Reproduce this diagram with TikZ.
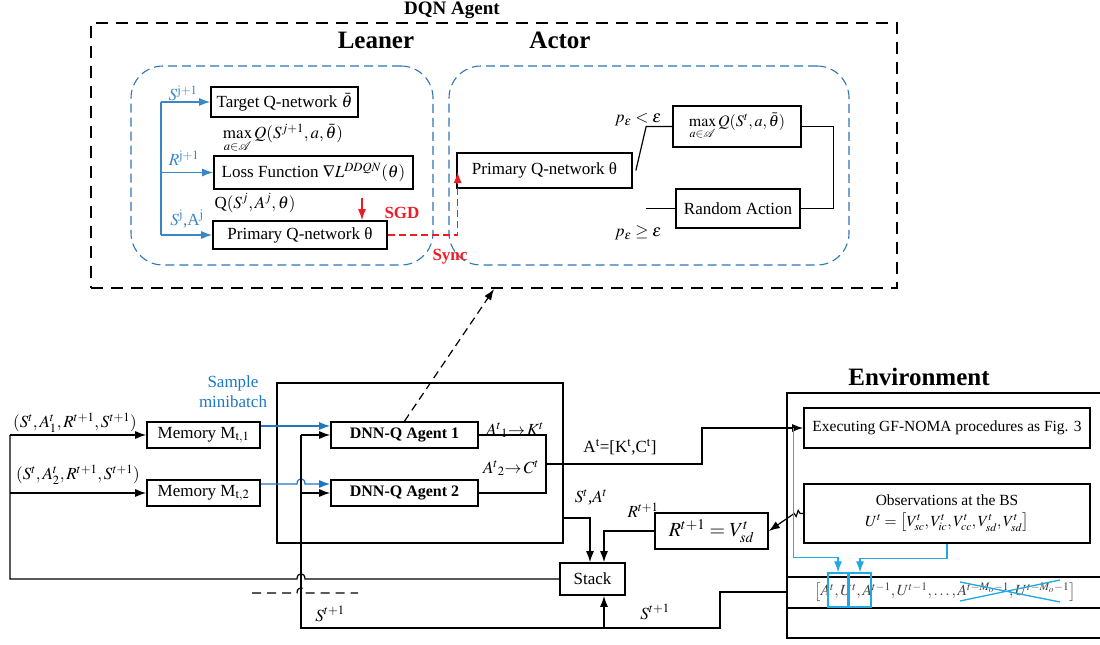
\documentclass[tikz,border=0pt]{standalone}
\usepackage{mathptmx}
\usepackage{fontspec}
\setmainfont{Liberation Serif}
\usetikzlibrary{arrows.meta,calc}
\definecolor{Frame}{HTML}{2E75B6}
\definecolor{Feed}{HTML}{3A87C8}
\definecolor{Batch}{HTML}{1F77C4}
\definecolor{Hist}{HTML}{21A9E1}
\definecolor{Sync}{HTML}{EE1C25}
\newcommand{\fsz}[1]{\fontsize{#1}{#1}\selectfont}

\begin{document}
\begin{tikzpicture}[x=1pt,y=-1pt,>={Latex[length=11pt,width=8pt]},
  box/.style={draw,line width=1.7pt,inner sep=0pt,font=\fsz{17}},
  lane/.style={draw=Frame,dash pattern=on 9pt off 5pt,line width=1.1pt,rounded corners=32pt,inner sep=0pt},
  wire/.style={line width=1.2pt},
  lbl/.style={inner sep=0pt,font=\fsz{17}}]
\useasboundingbox (0,0) rectangle (1100,645);
% DQN agent
\node[font=\fsz{19}\bfseries,anchor=base] (dqnlbl) at (452,14) {DQN Agent};
\node[draw,line width=2.2pt,dash pattern=on 12pt off 8pt,minimum width=806pt,minimum height=265pt,inner sep=0pt] (dqn) at (494,155.5) {};
\node[lane,minimum width=302pt,minimum height=199pt] (leaner) at (282,165.5) {};
\node[lane,minimum width=400pt,minimum height=199pt] (actor) at (649,165.5) {};
\node[font=\fsz{25}\bfseries] (leanerlbl) at (376,40) {Leaner};
\node[font=\fsz{25}\bfseries] (actorlbl) at (560,40) {Actor};
% leaner
\node[box,minimum width=147pt,minimum height=30pt] (tgt) at (284.5,102) {Target Q-network $\bar{\theta}$};
\node[box,minimum width=199pt,minimum height=33pt] (loss) at (313.5,172.5) {Loss Function $\nabla L^{DDQN}(\theta)$};
\node[box,minimum width=174pt,minimum height=28pt] (lprim) at (300,235) {Primary Q-network θ};
\node[lbl,text=Feed] (sj1) at (183,93) {$S^{\mathrm{j+1}}$};
\node[lbl,text=Feed] (rj1) at (184,158) {$R^{\mathrm{j+1}}$};
\node[lbl,text=Feed] (sjaj) at (187,219) {$S^{\mathrm{j}}$,A$^{\mathrm{j}}$};
\node[lbl] (maxtgt) at (283,138) {$\max\limits_{a\in\mathcal{A}} Q(S^{j+1},a,\bar{\theta})$};
\node[lbl] (qprim) at (255,203) {Q$(S^{j},A^{j},\theta)$};
\node[lbl,font=\fsz{17}\bfseries,text=Sync] (sgd) at (402,213) {SGD};
\node[lbl,font=\fsz{17}\bfseries,text=Sync] (sync) at (450,257) {Sync};
\coordinate (bus) at (161,160);
\draw[wire,Feed,->] (bus |- tgt.west) -- (tgt.west);
\draw[wire,Feed,->] (bus |- loss.west) -- (loss.west);
\draw[wire,Feed,->] (bus |- lprim.west) -- (lprim.west);
\draw[wire,Feed] (bus |- tgt.west) -- (bus |- lprim.west);
\draw[wire,Sync,->] ([xshift=48.5pt,yshift=-8pt]loss.south) -- ([xshift=62pt]lprim.north);
% actor
\node[box,minimum width=175pt,minimum height=35pt] (aprim) at (544.5,170.5) {Primary Q-network θ};
\node[box,font=\fsz{16},minimum width=128pt,minimum height=41pt] (amax) at (737,126.5) {$\max\limits_{a\in\mathcal{A}} Q(S^{t},a,\bar{\theta})$};
\node[box,minimum width=124pt,minimum height=39pt] (rand) at (738,208.5) {Random Action};
\node[lbl] (plt) at (638,120) {$p_{\varepsilon}<\varepsilon$};
\node[lbl] (pge) at (638,233) {$p_{\varepsilon}\geq\varepsilon$};
\draw[wire] ([xshift=3pt]aprim.east) -- ([xshift=-26pt]amax.west) -- (amax.west);
\draw[wire] ([xshift=-29pt]rand.west) -- (rand.west);
\draw[wire] (amax.east) -| ([xshift=33pt]rand.east) -- (rand.east);
\draw[wire,Sync,dash pattern=on 7pt off 4pt,->] (lprim.east) -| ([xshift=1.5pt,yshift=-1.5pt]aprim.west);
% agents
\node[lbl,text=Batch,align=center,font=\fontsize{17}{20}\selectfont] (batch) at (233,392) {Sample\\minibatch};
\node[box,minimum width=113pt,minimum height=26pt] (mem1) at (203.5,435) {Memory M$_{\mathrm{t,1}}$};
\node[box,minimum width=113pt,minimum height=26pt] (mem2) at (203.5,493) {Memory M$_{\mathrm{t,2}}$};
\node[lbl] (tup1) at (75,423) {$(S^{t},A^{t}_{1},R^{t+1},S^{t+1})$};
\node[lbl] (tup2) at (78,475) {$(S^{t},A^{t}_{2},R^{t+1},S^{t+1})$};
\node[draw,line width=1.7pt,minimum width=286pt,minimum height=160pt] (agents) at (420,463) {};
\node[box,font=\fsz{16}\bfseries,minimum width=147pt,minimum height=26pt] (ag1) at (404.5,435) {DNN-Q Agent 1};
\node[box,font=\fsz{16}\bfseries,minimum width=147pt,minimum height=26pt] (ag2) at (404.5,493) {DNN-Q Agent 2};
\node[lbl] (k1) at (515,430) {$A^{t}{}_{\mathrm{1}}{\rightarrow}\,K^{t}$};
\node[lbl] (c2) at (511,468) {$A^{t}{}_{\mathrm{2}}{\rightarrow}\,C^{t}$};
\node[lbl] (act) at (620,447) {A$^{\mathrm{t}}$=[K$^{\mathrm{t}}$,C$^{\mathrm{t}}$]};
\node[lbl] (sa) at (591,497) {$S^{t}$,$A^{t}$};
\node[box,minimum width=65pt,minimum height=32pt] (stack) at (592.5,579) {Stack};
\node[box,font=\fsz{20},minimum width=113pt,minimum height=36pt] (rbox) at (711.5,531) {$R^{t+1}=V^{t}_{sd}$};
\node[lbl] (rlbl) at (643,510) {$R^{t+1}$};
\node[lbl] (s1a) at (655,612) {$S^{t+1}$};
\node[lbl] (s1b) at (330,614) {$S^{t+1}$};
% environment
\node[font=\fsz{25}\bfseries] (envlbl) at (919,377) {Environment};
\draw[line width=1.7pt] (1102,393) -- (787,393) -- (787,638) -- (1102,638);
\draw[line width=1.7pt] (787,577) -- (1102,577) (787,608) -- (1102,608);
\node[box,font=\fsz{15.5},minimum width=286pt,minimum height=40pt] (exec) at (947,428) {Executing GF-NOMA procedures as Fig. 3};
\node[box,font=\fsz{15.5},align=center,minimum width=286pt,minimum height=59pt] (obs) at (947,513.5) {Observations at the BS\\[5pt] $U^{t}=\left[V^{t}_{sc},V^{t}_{ic},V^{t}_{cc},V^{t}_{sd},V^{t}_{sd}\right]$};
\node[lbl,font=\fsz{15.5},text=black!75] (hist) at (945,592) {$\left[A^{t},U^{t},A^{t-1},U^{t-1},\ldots,A^{t-M_o-1},U^{t-M_o-1}\right]$};
\node[draw=Hist,line width=1.3pt,minimum width=20pt,minimum height=34pt,inner sep=0pt] (h1) at (838,590) {};
\node[draw=Hist,line width=1.3pt,minimum width=22pt,minimum height=34pt,inner sep=0pt] (h2) at (860,590) {};
\draw[Hist,line width=1.3pt] (960,582) -- (1060,602) (960,601) -- (1060,580);
% connectors
\coordinate (inl) at (10,435);
\coordinate (fb) at (301,628);
\coordinate (fbr) at (720,628);
\coordinate (histw) at (787,592);
\coordinate (jx) at (546,464);
\coordinate (jbend) at (702,464);
\coordinate (tap) at ([xshift=-10pt]exec.west);
\coordinate (sain) at ([xshift=-2.5pt]stack.north);
\coordinate (rin) at ([xshift=11.5pt]stack.north);
\coordinate (sfb) at ([xshift=11.5pt]stack.south);
\draw[wire,->] (inl) -- (mem1.west);
\draw[wire,->] (inl |- mem2.west) -- (mem2.west);
\draw[wire] (inl) -- (inl |- stack.west) -- ($(fb |- stack.west)+(-4pt,0pt)$) .. controls +(0pt,7pt) and +(0pt,7pt) .. ($(fb |- stack.west)+(4pt,0pt)$) -- (stack.west);
\draw[wire,Batch,->] ([yshift=9pt]mem1.east) -- ([yshift=9pt]ag1.west);
\draw[wire,Batch,->] ([yshift=9pt]mem2.east) -- ($(fb |- mem2.east)+(-4pt,9pt)$) .. controls +(0pt,7pt) and +(0pt,7pt) .. ($(fb |- mem2.east)+(4pt,9pt)$) -- ([yshift=9pt]ag2.west);
\draw[wire] (histw) -| (fbr) -- (fb) -- (fb |- ag1.west);
\draw[wire,->] (fb |- ag1.west) -- (ag1.west);
\draw[wire,->] (fb |- ag2.west) -- (ag2.west);
\draw[wire,->] (sfb |- fb) -- (sfb);
\draw[wire,dash pattern=on 9pt off 6pt] (252,593) -- (297,593) .. controls (297,586) and (305,586) .. (305,593) -- (358,593);
\draw[wire] (ag1.east) -| (jx) |- (ag2.east);
\draw[wire,->] (jx) -- (jbend) |- (exec.west);
\draw[wire,->] ([yshift=-55pt]agents.east) -| (sain);
\draw[wire,->] (rbox.west) -| (rin);
\draw[wire,->] (obs.west) -- ++(-3,0) -- ++(-2,-3) -- ++(-2,6) -- ++(-2,-3) -- (rbox.east);
\draw[wire,Hist,->] (tap) |- ($(h1.north)+(0pt,15pt)$) -- (h1.north);
\draw[wire,Hist,->] (obs.south) |- ($(h2.north)+(0pt,14pt)$) -- (h2.north);
\draw[wire,dash pattern=on 8pt off 5pt,->] (ag1.north) -- (dqn.south);
\end{tikzpicture}
\end{document}
